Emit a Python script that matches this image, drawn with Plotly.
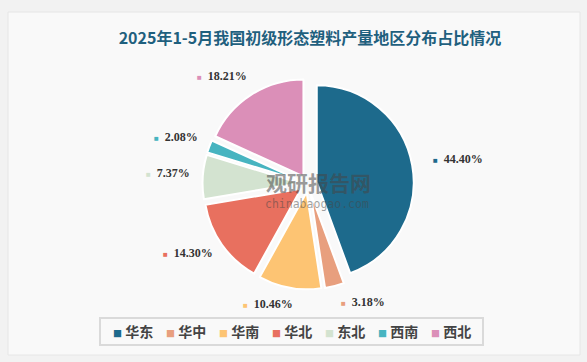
import math
import plotly.graph_objects as go

# ---- data ----
regions = ['华东', '华中', '华南', '华北', '东北', '西南', '西北']
shares = [44.40, 3.18, 10.46, 14.30, 7.37, 2.08, 18.21]
colors = ['#1d6a8c', '#e89f7e', '#fdc473', '#e8705f', '#d3e3d0', '#47b4c0', '#db8fb8']
title_text = '2025年1-5月我国初级形态塑料产量地区分布占比情况'

W, H = 587, 362
dom_x = [0.345, 0.705]
dom_y = [0.2, 0.785]
pull = 0.09

fig = go.Figure()

fig.add_trace(go.Pie(
    labels=regions, values=shares, sort=False, direction='clockwise', rotation=0,
    marker=dict(colors=colors, line=dict(color='white', width=2)),
    pull=[pull] * len(shares), textinfo='none', hoverinfo='label+percent',
    showlegend=False, domain=dict(x=dom_x, y=dom_y),
))

# legend entries: small coloured square drawn in the entry text
for i, (name, c) in enumerate(zip(regions, colors)):
    fig.add_trace(go.Scatter(
        x=[None], y=[None], mode='markers',
        name=f"<span style='color:{c};font-size:9px'>■</span> {name}",
        marker=dict(symbol='square', size=1, color='rgba(0,0,0,0)',
                    line=dict(width=0, color='rgba(0,0,0,0)')),
        legendwidth=(46 if i == len(regions) - 1 else None)))

# outside labels, positioned from the cumulative angles of the data
cx = W * (dom_x[0] + dom_x[1]) / 2
cy = H * (1 - (dom_y[0] + dom_y[1]) / 2)
R = min(W * (dom_x[1] - dom_x[0]), H * (dom_y[1] - dom_y[0])) / (2 + 2 * pull)
total = sum(shares)
cum = 0.0
annotations = []
for v, c in zip(shares, colors):
    mid = (cum + v / 2) / total * 2 * math.pi
    cum += v
    r = 1.29 * R
    px = cx + r * math.sin(mid)
    py = cy - r * math.cos(mid)
    right_side = math.sin(mid) > 0
    annotations.append(dict(
        x=px / W, y=1 - py / H, xref='paper', yref='paper', showarrow=False,
        xanchor='left' if right_side else 'right', yanchor='middle',
        xshift=0 if right_side else 9, yshift=3,
        text=f"<span style='color:{c};font-size:8px'>■</span>  <b>{v:.2f}%</b>",
        font=dict(family='Liberation Serif', size=12, color='#333333'),
    ))

# watermark
annotations.append(dict(x=318 / W, y=1 - 182 / H, xref='paper', yref='paper', showarrow=False,
                        text='<b>观研报告网</b>', font=dict(family='Noto Sans CJK SC', size=21,
                                                      color='rgba(70,70,70,0.55)'),
                        xanchor='center', yanchor='middle'))
annotations.append(dict(x=317 / W, y=1 - 204 / H, xref='paper', yref='paper', showarrow=False,
                        text='chinabaogao.com', font=dict(family='DejaVu Sans Mono', size=11.5,
                                                          color='rgba(70,70,70,0.5)'),
                        xanchor='center', yanchor='middle'))

fig.update_layout(
    width=W, height=H,
    margin=dict(l=0, r=0, t=0, b=0, autoexpand=False),
    paper_bgcolor='#f2f2f2', plot_bgcolor='rgba(0,0,0,0)',
    xaxis=dict(visible=False), yaxis=dict(visible=False),
    title=dict(text='<b>' + title_text + '</b>', x=0.528, xanchor='center', y=1 - 38 / H,
               yanchor='middle', font=dict(family='Noto Sans CJK SC', size=16, color='#1f607e')),
    legend=dict(orientation='h', x=73 / W, xanchor='left', y=1 - 316 / H, yanchor='top',
                borderwidth=0, bgcolor='rgba(0,0,0,0)',
                itemsizing='trace', itemwidth=30, entrywidth=8, tracegroupgap=0,
                font=dict(family='Noto Sans CJK SC', size=14, color='#444444', weight='bold')),
    annotations=annotations,
    shapes=[dict(type='rect', xref='paper', yref='paper', x0=8 / W, x1=580 / W,
                 y0=1 - 355 / H, y1=1 - 12 / H, fillcolor='#f9f9f9',
                 line=dict(color='#e6e6e6', width=1), layer='below'),
            dict(type='rect', xref='paper', yref='paper', x0=100 / W, x1=483 / W,
                 y0=1 - 345 / H, y1=1 - 318 / H, fillcolor='rgba(0,0,0,0)',
                 line=dict(color='#dadada', width=2), layer='below')],
)

fig.write_html('out.html', config={'displayModeBar': False},
               post_script="document.body.style.margin='0';")
